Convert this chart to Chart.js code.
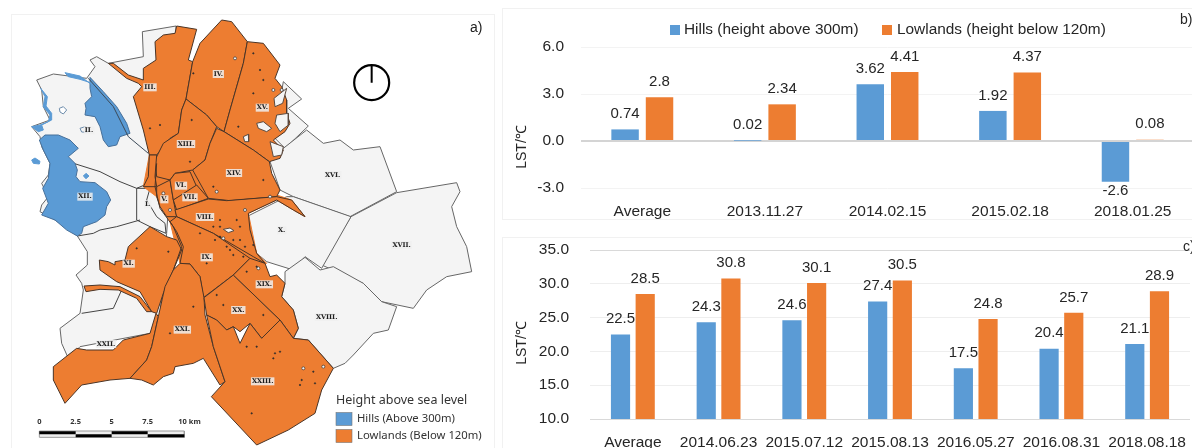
<!DOCTYPE html>
<html>
<head>
<meta charset="utf-8">
<script src="https://cdn.jsdelivr.net/npm/chart.js@4"></script>
<style>
html, body { margin: 0; padding: 0; background: #fff; overflow: hidden; width: 1192px; height: 448px; }
canvas, .frame { position: absolute; }
#mapChart { left: 0; top: 0; }
#winterChart { left: 502px; top: 0; }
#summerChart { left: 502px; top: 237px; }
.frame { border: 1px solid #f1f1f1; box-sizing: border-box; }
</style>
</head>
<body>
<div class="frame" style="left:11px;top:14px;width:484px;height:440px"></div>
<div class="frame" style="left:502px;top:8px;width:700px;height:212px"></div>
<div class="frame" style="left:502px;top:237px;width:700px;height:220px"></div>
<canvas id="mapChart" width="500" height="448"></canvas>
<canvas id="winterChart" width="692" height="220"></canvas>
<canvas id="summerChart" width="690" height="211"></canvas>
<script>
const hillsLabel = 'Hills (height above 300m)';
const lowlandsLabel = 'Lowlands (height below 120m)';

// Winter panel
const winterDates = ['Average', '2013.11.27', '2014.02.15', '2015.02.18', '2018.01.25'];
const winterHills = [0.74, 0.02, 3.62, 1.92, -2.6];
const winterLowlands = [2.8, 2.34, 4.41, 4.37, 0.08];
const winterTicks = [-3, 0, 3, 6];

// Summer panel
const summerDates = ['Average', '2014.06.23', '2015.07.12', '2015.08.13', '2016.05.27', '2016.08.31', '2018.08.18'];
const summerHills = [22.5, 24.3, 24.6, 27.4, 17.5, 20.4, 21.1];
const summerLowlands = [28.5, 30.8, 30.1, 30.5, 24.8, 25.7, 28.9];
const summerTicks = [10, 15, 20, 25, 30, 35];

// Map outlines in map units (3 units = 1 pixel)
const greyWest = [[427,95],[528,78],[520,400],[500,700],[480,950],[450,1000],[240,1040],[205,1075],[185,1030],[180,985],[240,940],[250,870],[245,850],[228,825],[262,795],[262,755],[232,708],[195,680],[165,660],[120,635],[125,615],[145,590],[125,550],[145,525],[150,490],[125,440],[120,410],[95,380],[150,360],[130,320],[125,270],[110,240],[160,222],[260,235],[285,200],[270,180],[290,170],[325,190],[430,170]];
const greyNorthEast = [[850,245],[905,297],[865,325],[925,378],[855,445],[810,400],[840,300]];
const districtXVI = [[850,445],[920,390],[970,430],[1020,420],[1060,450],[1140,440],[1190,575],[1050,650],[880,590],[840,570],[810,485]];
const districtXVII = [[1190,578],[1370,548],[1380,575],[1355,620],[1370,680],[1400,740],[1415,815],[1340,830],[1280,870],[1240,925],[1145,905],[1090,850],[965,795],[1053,650]];
const districtX = [[880,590],[1053,650],[965,805],[915,770],[880,810],[800,785],[770,760],[750,690],[740,650],[860,590]];
const districtXVIII = [[855,815],[915,772],[960,810],[1000,800],[1090,850],[1145,905],[1190,920],[1165,990],[1120,1000],[1060,1065],[1035,1090],[1000,1105],[925,1020],[880,1015],[895,985],[880,930],[845,890],[855,850]];

const orangeCore = [[448,465],[470,530],[578,510],[625,595],[830,585],[875,600],[915,650],[880,630],[830,600],[745,640],[770,760],[800,790],[700,825],[540,790],[510,665],[470,590],[430,560]];
const districtIII = [[530,78],[590,88],[565,180],[578,185],[558,297],[545,330],[535,400],[510,415],[470,465],[448,465],[430,390],[400,290],[425,260],[415,250],[380,235],[325,190],[340,190],[385,225],[430,240],[430,205],[468,180],[465,125],[490,105],[525,100]];
const districtIV = [[665,60],[695,65],[742,125],[730,190],[690,330],[672,395],[650,380],[620,345],[558,297],[578,185],[600,130]];
const districtXV = [[742,125],[790,130],[840,195],[825,235],[845,260],[860,300],[860,340],[870,370],[855,395],[820,420],[850,450],[840,475],[808,485],[760,450],[672,395],[690,330],[730,190]];
const districtXIII = [[558,297],[620,345],[650,380],[630,430],[615,480],[578,510],[525,520],[510,540],[470,530],[465,480],[490,430],[535,400],[545,330]];
const districtXIV = [[650,385],[672,395],[760,450],[808,485],[815,520],[840,570],[830,590],[690,602],[625,595],[578,510],[615,480],[630,430]];
const strandNorth = [[448,465],[470,465],[465,530],[470,560],[430,560],[445,530]];
const districtV = [[470,560],[510,540],[520,600],[530,650],[500,650],[480,620],[470,590]];
const districtVI = [[510,540],[525,520],[570,515],[590,560],[520,600]];
const districtVII = [[520,600],[590,555],[625,595],[530,630]];
const districtVIII = [[525,630],[625,597],[680,602],[830,590],[875,600],[915,650],[880,630],[830,600],[745,640],[750,690],[770,760],[795,790],[760,770],[640,700],[530,650]];
const districtIX = [[510,665],[530,650],[640,700],[750,775],[700,825],[610,893],[600,830],[570,792],[540,790],[550,740],[530,695]];
const districtXI = [[450,680],[500,710],[530,720],[545,750],[520,810],[490,880],[470,940],[455,935],[420,875],[350,845],[300,810],[298,780],[325,785],[345,795],[345,785],[375,780],[385,740]];
const strandWest = [[252,858],[300,855],[360,860],[420,890],[455,935],[440,935],[410,895],[355,870],[300,868],[258,875]];
const districtXXII = [[160,1100],[230,1045],[260,1050],[340,1050],[370,1020],[450,1000],[468,940],[475,950],[455,1040],[440,1080],[390,1135],[330,1140],[245,1155],[195,1210],[160,1140]];
const districtXXI = [[540,790],[570,792],[600,830],[612,893],[615,945],[640,1040],[675,1145],[660,1155],[610,1075],[580,1090],[525,1100],[520,1120],[490,1130],[460,1155],[425,1140],[390,1135],[440,1080],[455,1040],[475,950],[495,860],[520,810]];
const districtXX = [[612,893],[700,825],[840,960],[785,1015],[750,970],[720,995],[700,980],[680,990],[650,960],[620,945]];
const districtXIX = [[700,825],[750,775],[795,790],[810,830],[830,825],[855,850],[845,890],[880,930],[895,985],[880,1015],[840,960]];
const districtXXIII = [[620,945],[650,960],[680,990],[700,980],[720,1030],[750,970],[785,1015],[840,960],[880,1015],[925,1020],[1000,1105],[965,1170],[945,1240],[865,1290],[770,1335],[634,1190],[675,1145],[640,1040]];

const hillsXII = [[118,420],[135,405],[175,405],[210,420],[235,445],[205,470],[225,490],[232,510],[228,530],[240,545],[285,548],[320,575],[332,600],[320,620],[315,645],[290,665],[250,680],[245,700],[232,708],[200,690],[165,660],[125,645],[145,610],[128,565],[145,535],[150,490],[130,450]];
const hillsII = [[270,232],[310,275],[350,320],[380,370],[390,400],[360,410],[350,435],[325,440],[310,420],[300,380],[285,350],[255,345],[258,325],[255,310],[275,290],[270,265]];
const hillsEdge = [[122,265],[135,290],[130,320],[150,345],[145,365],[120,375],[95,380],[115,395],[130,390],[125,375],[155,360],[155,340],[138,318],[142,290]];
const hillsStrip = [[195,218],[240,228],[290,265],[278,250],[240,238],[205,230]];
const hillsBlobA = [[95,480],[105,474],[120,484],[118,492],[100,490]];
const hillsBlobB = [[178,325],[190,320],[200,330],[190,342],[180,336]];
const hillsBlobC = [[240,385],[255,380],[270,388],[262,397],[245,396]];
const hillsBlobD = [[250,528],[258,520],[267,528],[258,536]];

const inletA = [[770,370],[790,365],[815,385],[800,395],[775,385]];
const inletB = [[822,295],[860,265],[848,310],[825,320]];
const inletC = [[830,345],[865,340],[865,375],[840,395],[825,370]];
const inletD = [[670,688],[690,684],[702,692],[685,698]];
const inletE = [[810,425],[850,440],[845,465],[820,470]];
const inletF = [[730,410],[745,403],[746,425],[734,425]];

const lineIIXII = [[150,445],[205,485],[300,515],[360,545],[410,565],[445,550]];
const lineDistrictI = [[410,565],[450,565],[440,600],[470,650],[495,670],[498,700],[450,680],[410,660],[410,565]];
const lineXIIXI = [[232,708],[280,700],[300,690],[350,680],[420,660]];
const lineXXIIXI = [[245,940],[340,925],[365,870]];
const lineIIRidge = [[265,235],[340,320],[385,410],[445,460]];
const lineDanube = [[470,490],[465,560],[480,625],[520,680],[545,740],[520,810]];

const holesSmall = [[705,175],[650,575],[490,580],[510,630],[735,630],[670,715],[775,805],[820,270],[845,270],[810,590],[910,1105],[970,1100]];
const specks = [[580,220],[760,160],[780,210],[790,240],[760,280],[715,380],[575,360],[450,385],[480,375],[570,485],[640,560],[790,540],[660,680],[640,680],[700,720],[720,720],[735,740],[760,735],[600,700],[660,660],[710,660],[690,750],[700,765],[730,770],[740,815],[770,800],[650,885],[670,915],[790,945],[820,1075],[825,1060],[840,1055],[740,1040],[770,1040],[905,1140],[900,1155],[940,1115],[945,1150],[755,1240],[580,920],[505,755],[410,745],[510,1000],[620,790],[645,720],[680,740],[720,680],[660,710]];

const districtNames = ['IV.','III.','XV.','II.','XIII.','XIV.','XVI.','VI.','VII.','V.','XII.','I.','VIII.','X.','XVII.','IX.','XI.','XIX.','XX.','XVIII.','XXI.','XXII.','XXIII.'];
const namePositions = [[655,222],[450,262],[787,323],[267,391],[558,432],[702,519],[998,525],[543,557],[570,592],[493,598],[255,590],[443,613],[615,651],[845,691],[1205,735],[620,772],[386,791],[793,853],[715,930],[980,951],[547,989],[318,1032],[788,1144]];

const scaleStops = [118, 227, 335, 443, 553];
const scaleNames = ['0', '2.5', '5', '7.5', '10 km'];
const northCentre = [[1115, 248]];
const northNeedle = [[1115, 196], [1115, 248]];

const blue = '#5b9bd5';
const orange = '#ed7d31';
const textColor = '#262626';
const sansFont = '"Liberation Sans", Arial, sans-serif';
const mapFont = '"Noto Sans", sans-serif';

const toPoints = pts => pts.map(([x, y]) => ({ x, y }));

// Filled polygon
function area(pts, color, line) {
    return {
        data: toPoints([...pts, pts[0]]),
        showLine: true, fill: 'shape', tension: 0,
        backgroundColor: color, borderColor: line, borderWidth: 1, pointRadius: 0
    };
}

// Open line
function stroke(pts, color, width) {
    return {
        data: toPoints(pts),
        showLine: true, fill: false, tension: 0,
        borderColor: color, borderWidth: width, pointRadius: 0
    };
}

// Loose points
function dots(pts, radius, fillColor, line) {
    return {
        data: toPoints(pts), showLine: false,
        pointRadius: radius, pointBackgroundColor: fillColor,
        pointBorderColor: line, pointBorderWidth: 0.7
    };
}

function scaleBar() {
    const out = [area([[118,1293],[553,1293],[553,1312],[118,1312]], '#eeeeee', '#9a9a9a')];
    for (let i = 0; i < 4; i++) {
        const y = i % 2 === 0 ? 1298 : 1307;
        out.push(stroke([[scaleStops[i], y], [scaleStops[i + 1], y]], '#000', 3));
    }
    return out;
}

const mapLayers = [
    area(greyWest, '#f4f4f4', '#666'),
    area(greyNorthEast, '#f4f4f4', '#666'),
    area(districtXVI, '#f4f4f4', '#666'),
    area(districtXVII, '#f4f4f4', '#666'),
    area(districtX, '#f4f4f4', '#666'),
    area(districtXVIII, '#f4f4f4', '#666'),
    stroke(lineIIXII, '#444', 1),
    stroke(lineDistrictI, '#444', 1),
    stroke(lineXIIXI, '#444', 1),
    stroke(lineXXIIXI, '#444', 1),
    area(hillsXII, blue, '#47709a'),
    area(hillsII, blue, '#47709a'),
    area(hillsEdge, blue, blue),
    area(hillsStrip, blue, blue),
    area(hillsBlobA, blue, blue),
    area(hillsBlobB, '#ffffff', '#6d8cab'),
    area(hillsBlobC, '#f4f4f4', '#6d8cab'),
    area(hillsBlobD, blue, blue),
    stroke(lineIIRidge, '#3c4a58', 1),
    area(orangeCore, orange, orange),
    ...[districtIII, districtIV, districtXV, districtXIII, districtXIV, strandNorth, districtV, districtVI, districtVII,
        districtVIII, districtIX, districtXI, strandWest, districtXXII, districtXXI, districtXX, districtXIX, districtXXIII]
        .map(d => area(d, orange, '#4a3426')),
    stroke(lineDanube, '#4a3426', 1),
    ...[inletA, inletB, inletC, inletD, inletE, inletF].map(d => area(d, '#f4f4f4', '#5a4a40')),
    dots(holesSmall, 1.5, '#f4f4f4', '#333'),
    dots(specks, 0.7, '#2c2c2c', '#2c2c2c'),
    ...scaleBar(),
    dots(northCentre, 17.5, 'rgba(255,255,255,0)', '#000'),
    stroke(northNeedle, '#000', 2)
];
mapLayers.forEach((layer, i) => { layer.order = -i; });
mapLayers[mapLayers.length - 2].pointBorderWidth = 2.2;

const mapText = {
    id: 'mapText',
    afterDatasetsDraw(chart) {
        const { ctx, scales: { x, y } } = chart;
        ctx.save();
        ctx.textBaseline = 'middle';
        ctx.textAlign = 'center';
        ctx.font = 'bold 6.5px "DejaVu Serif", serif';
        districtNames.forEach((name, i) => {
            const px = x.getPixelForValue(namePositions[i][0]);
            const py = y.getPixelForValue(namePositions[i][1]);
            const w = ctx.measureText(name).width + 2;
            ctx.fillStyle = 'rgba(238,238,238,0.85)';
            ctx.fillRect(px - w / 2, py - 4, w, 8);
            ctx.fillStyle = '#1c1c1c';
            ctx.fillText(name, px, py);
        });
        ctx.font = 'bold 7.5px ' + mapFont;
        ctx.fillStyle = '#333';
        scaleNames.forEach((name, i) => {
            ctx.textAlign = i === 4 ? 'left' : 'center';
            const off = i === 4 ? -6 : 0;
            ctx.fillText(name, x.getPixelForValue(scaleStops[i]) + off, 421.5);
        });
        ctx.textAlign = 'left';
        ctx.fillStyle = '#333';
        ctx.font = '12.5px ' + mapFont;
        ctx.fillText('Height above sea level', 336, 400);
        ctx.font = '11.3px ' + mapFont;
        ctx.fillText('Hills (Above 300m)', 357, 418.5);
        ctx.fillText('Lowlands (Below 120m)', 357, 435.5);
        ctx.fillStyle = blue;
        ctx.fillRect(336, 412.5, 16, 13);
        ctx.fillStyle = orange;
        ctx.fillRect(336, 429.5, 16, 13);
        ctx.strokeStyle = '#777';
        ctx.lineWidth = 0.6;
        ctx.strokeRect(336, 412.5, 16, 13);
        ctx.strokeRect(336, 429.5, 16, 13);
        ctx.font = '14px "Liberation Sans", sans-serif';
        ctx.fillStyle = '#222';
        ctx.fillText('a)', 470, 28);
        ctx.restore();
    }
};

new Chart(document.getElementById('mapChart'), {
    type: 'scatter',
    data: { datasets: mapLayers },
    options: {
        responsive: false,
        animation: false,
        layout: { padding: 0, autoPadding: false },
        plugins: { legend: { display: false }, tooltip: { enabled: false } },
        scales: {
            x: { type: 'linear', display: false, min: 0, max: 1500 },
            y: { type: 'linear', display: false, min: 0, max: 1344, reverse: true }
        }
    },
    plugins: [mapText]
});

function drawValues(chart, index) {
    const { ctx } = chart;
    const values = chart.data.datasets[index].data;
    ctx.save();
    ctx.font = '15px ' + sansFont;
    ctx.fillStyle = textColor;
    ctx.textAlign = 'center';
    ctx.textBaseline = 'middle';
    chart.getDatasetMeta(index).data.forEach((bar, i) => {
        ctx.fillText(String(values[i]), bar.x, values[i] < 0 ? bar.y + 9 : bar.y - 15.5);
    });
    ctx.restore();
}

// Hills labels go under the bars so the orange bars can cover them, as in the figure
const valueLabels = {
    id: 'valueLabels',
    beforeDatasetsDraw(chart) { drawValues(chart, 0); },
    afterDatasetsDraw(chart) { drawValues(chart, 1); }
};

function panelText(tag, tagX, tagY, titleY, legend) {
    return {
        id: 'panelText',
        afterDraw(chart) {
            const { ctx } = chart;
            ctx.save();
            ctx.fillStyle = textColor;
            ctx.textBaseline = 'middle';
            ctx.font = '14px ' + sansFont;
            ctx.textAlign = 'left';
            ctx.fillText(tag, tagX, tagY);
            if (legend) {
                ctx.font = '15.4px ' + sansFont;
                ctx.fillText(hillsLabel, 182, 30);
                ctx.fillText(lowlandsLabel, 395, 30);
                ctx.fillStyle = blue;
                ctx.fillRect(168, 25, 10, 10);
                ctx.fillStyle = orange;
                ctx.fillRect(380, 25, 10, 10);
            }
            ctx.translate(20, titleY);
            ctx.rotate(-Math.PI / 2);
            ctx.textAlign = 'center';
            ctx.fillStyle = textColor;
            ctx.font = '14px ' + sansFont;
            ctx.fillText('LST/℃', 0, 0);
            ctx.restore();
        }
    };
}

function barPanel({ id, labels, hills, lowlands, ticks, min, max, catPct, barPct, top, right, axisWidth, axisHeight, tickGap, xGap, gridColor, plugin }) {
    new Chart(document.getElementById(id), {
        type: 'bar',
        data: {
            labels,
            datasets: [
                { label: hillsLabel, data: hills, backgroundColor: blue, categoryPercentage: catPct, barPercentage: barPct },
                { label: lowlandsLabel, data: lowlands, backgroundColor: orange, categoryPercentage: catPct, barPercentage: barPct }
            ]
        },
        options: {
            responsive: false,
            animation: false,
            layout: { padding: { top, left: 0, right, bottom: 0 } },
            plugins: { legend: { display: false }, tooltip: { enabled: false } },
            scales: {
                x: {
                    grid: { display: false },
                    border: { display: false },
                    afterFit: s => { s.height = axisHeight; s.paddingLeft = 0; s.paddingRight = 0; },
                    ticks: { color: textColor, font: { size: 15.5, family: sansFont }, maxRotation: 0, autoSkip: false, padding: xGap }
                },
                y: {
                    min, max,
                    afterBuildTicks: s => { s.ticks = ticks.map(value => ({ value })); },
                    afterFit: s => { s.width = axisWidth; s.paddingTop = 0; s.paddingBottom = 0; },
                    border: { display: false },
                    grid: {
                        drawTicks: false,
                        color: gridColor,
                        lineWidth: c => c.tick.value === 0 ? 2 : 1
                    },
                    ticks: {
                        color: textColor, padding: tickGap, font: { size: 15.5, family: sansFont },
                        callback: v => v.toFixed(1)
                    }
                }
            }
        },
        plugins: [valueLabels, plugin]
    });
}

barPanel({
    id: 'winterChart', labels: winterDates, hills: winterHills, lowlands: winterLowlands, ticks: winterTicks,
    min: -3, max: 6, catPct: 0.562, barPct: 0.797, top: 47, right: 0, axisWidth: 79, axisHeight: 32, tickGap: 17, xGap: 6,
    gridColor: c => c.tick.value === 0 ? '#d4d4d4' : '#f3f3f3',
    plugin: panelText('b)', 678, 20, 147, true)
});

barPanel({
    id: 'summerChart', labels: summerDates, hills: summerHills, lowlands: summerLowlands, ticks: summerTicks,
    min: 10, max: 35, catPct: 0.576, barPct: 0.777, top: 13, right: 2, axisWidth: 88, axisHeight: 29, tickGap: 21, xGap: 6,
    gridColor: c => c.tick.value === 10 || c.tick.value === 35 ? '#d9d9d9' : '#eeeeee',
    plugin: panelText('c)', 681, 10, 106, false)
});
</script>
</body>
</html>
